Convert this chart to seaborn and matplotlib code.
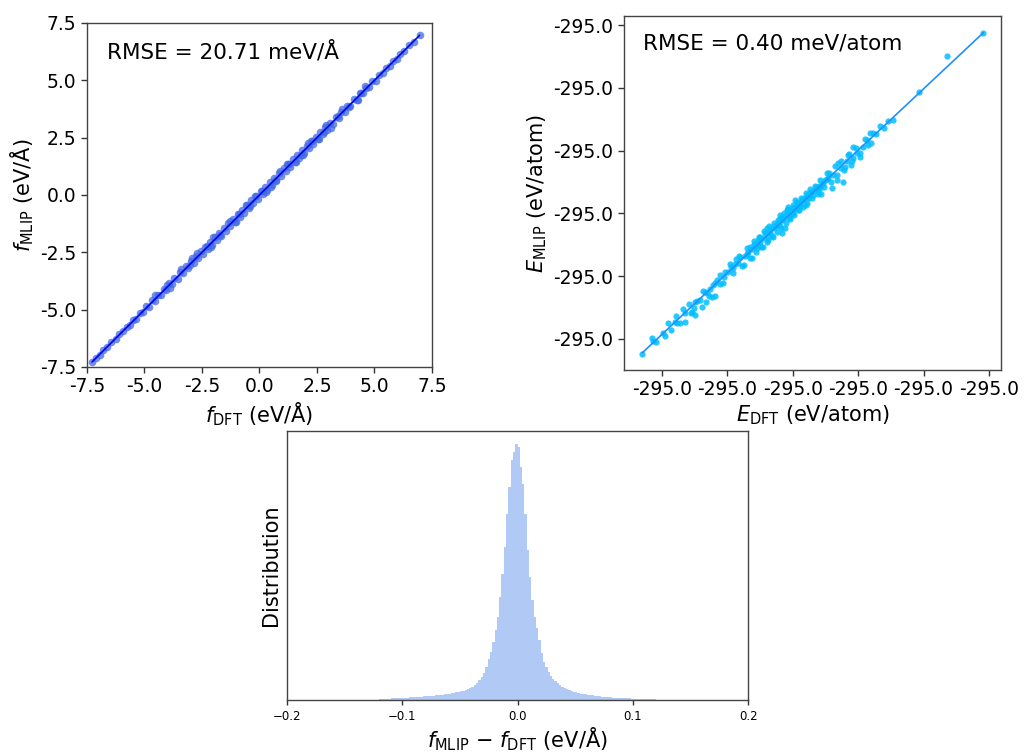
import numpy as np
import pandas as pd
import matplotlib
matplotlib.use("Agg")
import matplotlib.pyplot as plt
from matplotlib.ticker import FuncFormatter, FixedLocator
import seaborn as sns

# ---------------- data ----------------
f_dft = [-7.28, -7.12, -6.95, -6.8, -6.62, -6.45, -6.25, -6.1, -5.92, -5.78, -5.62, -5.5, -5.36, -5.2,
         -5.06, -4.92, -4.8, -4.66, -4.55, -4.42, -4.3, -4.16, -4.05, -3.92, -3.8, -3.7, -3.56, -3.45,
         -3.32, -3.2, -3.1, -2.96, -2.86, -2.76, -2.66, -2.55, -2.45, -2.36, -2.25, -2.15, -2.06, -1.95,
         -1.86, -1.75, -1.66, -1.55, -1.46, -1.35, -1.26, -1.15, -1.06, -0.95, -0.86, -0.75, -0.66, -0.55,
         -0.46, -0.35, -0.26, -0.15, -0.06, 0.05, 0.14, 0.25, 0.34, 0.45, 0.54, 0.65, 0.74, 0.85, 0.94,
         1.05, 1.14, 1.25, 1.34, 1.45, 1.54, 1.65, 1.74, 1.85, 1.94, 2.05, 2.14, 2.25, 2.34, 2.45, 2.55,
         2.65, 2.76, 2.86, 2.95, 3.06, 3.2, 3.32, 3.45, 3.56, 3.7, 3.82, 3.95, 4.1, 4.22, 4.36, 4.5, 4.62,
         4.76, 4.9, 5.05, 5.2, 5.36, 5.5, 5.66, 5.8, 5.96, 6.12, 6.3, 6.5, 6.7, 6.96,
         -4.55, -3.9, -2.95, -2.7, -2.1, -1.3, -0.6, 0.3, 0.9, 1.6, 2.1, 2.6, 3.1, 3.6, 4.3, 4.6,
         -1.0, -0.2, 0.5, 1.2, 1.9, 2.9, -3.4, -2.0,
         -4.0, -3.0, -2.3, -1.7, -0.9, -0.4, 0.1, 0.7, 1.3, 1.8, 2.3, 2.8, 3.4, 3.9, 4.4]
f_mlip = [-7.29, -7.10, -6.97, -6.78, -6.64, -6.43, -6.27, -6.07, -5.95, -5.74, -5.66, -5.46, -5.40, -5.14,
          -5.11, -4.86, -4.87, -4.59, -4.62, -4.35, -4.38, -4.09, -4.13, -3.84, -3.89, -3.61, -3.65, -3.37,
          -3.41, -3.11, -3.20, -2.87, -2.96, -2.66, -2.76, -2.45, -2.56, -2.25, -2.36, -2.04, -2.17, -1.84,
          -1.97, -1.64, -1.77, -1.44, -1.57, -1.24, -1.37, -1.04, -1.17, -0.84, -0.97, -0.64, -0.77, -0.44,
          -0.57, -0.24, -0.37, -0.04, -0.17, 0.16, 0.03, 0.36, 0.23, 0.56, 0.43, 0.76, 0.63, 0.96, 0.83,
          1.16, 1.03, 1.36, 1.23, 1.55, 1.43, 1.75, 1.63, 1.95, 1.83, 2.15, 2.03, 2.35, 2.23, 2.55, 2.44,
          2.75, 2.65, 2.95, 2.85, 3.15, 3.10, 3.40, 3.36, 3.64, 3.61, 3.90, 3.87, 4.17, 4.14, 4.43, 4.43, 4.68,
          4.69, 4.95, 4.99, 5.24, 5.32, 5.53, 5.62, 5.83, 5.93, 6.14, 6.28, 6.52, 6.68, 6.97,
          -4.36, -4.06, -2.76, -2.53, -2.27, -1.12, -0.44, 0.14, 1.06, 1.42, 2.26, 2.44, 2.94, 3.76, 4.14, 4.76,
          -1.16, -0.04, 0.34, 1.36, 1.74, 3.06, -3.24, -1.84,
          -3.94, -3.06, -2.24, -1.76, -0.84, -0.46, 0.16, 0.64, 1.36, 1.74, 2.36, 2.74, 3.46, 3.84, 4.46]

# energies: meV offsets from -295 eV
e_dft_mev = [-21.51, -20.79, -20.67, -20.46, -19.52, -19.31, -18.83, -18.37, -18.24, -17.81, -17.55, -17.48,
             -17.35, -17.10, -16.97, -16.64, -16.58, -16.33, -16.20, -15.95, -16.08, -15.77, -15.57, -15.26,
             -14.93, -14.75, -14.55, -14.34, -14.17, -14.04, -13.73, -13.53, -13.40, -13.27, -13.14, -12.97,
             -12.76, -12.64, -12.51, -12.30, -12.13, -12.00, -11.87, -11.74, -11.54, -11.49, -11.23, -11.11,
             -10.98, -10.85, -10.73, -10.60, -10.47, -10.34, -10.27, -10.08, -9.96, -9.83, -9.70, -9.50,
             -9.32, -9.15, -8.99, -8.82, -8.63, -8.43, -8.23, -8.05, -7.87, -7.67, -7.41, -7.21, -7.03, -6.90,
             -6.64, -6.52, -6.34, -6.19, -6.01, -5.83, -5.68, -5.57, -5.38, -5.07, -4.86, -4.35, -4.23, -3.89,
             -3.64, -2.36, -0.33, 1.77, 4.56, -4.10, -4.61, -5.40, -2.70,
             -13.65, -13.12, -12.51, -12.20, -11.90, -11.36, -11.06, -10.67, -10.44, -10.21, -9.99, -9.68,
             -9.45, -9.22, -8.92, -8.61, -8.30, -8.00, -7.77, -7.54, -7.31, -12.51, -11.74, -10.98, -10.21,
             -9.45, -8.76, -7.92, -14.42, -15.18, -15.95, -16.71, -17.48, -18.24, -19.01, -19.92,
             -16.9, -16.4, -15.6, -15.3, -14.8, -14.6, -14.1, -13.9, -13.5, -13.3, -13.0, -12.8, -12.6, -12.4,
             -12.2, -12.0, -11.8, -11.6, -11.4, -11.2, -11.0, -10.9, -10.7, -10.5, -10.4, -10.2, -10.0, -9.9,
             -9.7, -9.6, -9.4, -9.2, -9.0, -8.9, -8.7, -8.5, -8.3, -8.1, -7.9, -7.6, -7.4, -7.1, -6.8, -6.6,
             -6.3, -6.1, -5.8, -5.5, -5.2, -4.9, -4.5, -4.0, -3.3, -3.0, -18.9, -18.6, -19.8, -17.9, -17.7,
             -11.3, -10.8, -9.8, -12.9]
e_mlip_mev = [-21.60, -20.32, -20.52, -20.65, -19.10, -19.65, -19.05, -17.96, -18.97, -18.24, -17.88, -18.43,
              -17.29, -17.20, -17.75, -17.34, -16.66, -16.33, -16.94, -16.88, -15.98, -15.57, -15.90, -15.31,
              -14.90, -14.49, -14.62, -13.89, -14.21, -13.68, -14.35, -13.46, -13.27, -12.86, -13.81, -12.64,
              -12.99, -12.32, -12.05, -12.86, -11.77, -11.36, -12.32, -11.50, -11.23, -12.05, -11.10, -10.69,
              -10.28, -11.77, -10.42, -11.36, -9.87, -9.60, -10.55, -10.01, -10.14, -9.06, -9.55, -9.87,
              -9.06, -8.92, -9.47, -8.79, -8.38, -8.65, -7.98, -8.30, -8.57, -7.70, -7.37, -6.84, -8.11, -7.02,
              -7.43, -6.07, -6.48, -7.57, -6.35, -5.86, -5.31, -6.21, -5.66, -5.26, -5.53, -4.17, -4.58, -3.58,
              -3.68, -2.54, -0.24, 2.67, 4.52, -3.58, -4.72, -4.72, -2.62,
              -13.62, -13.05, -12.48, -12.15, -11.99, -11.34, -10.85, -10.53, -10.20, -9.95, -9.71, -9.38,
              -9.30, -9.06, -8.65, -8.41, -8.24, -7.92, -7.76, -7.43, -7.27, -12.81, -11.75, -11.18, -10.36,
              -9.55, -8.90, -8.08, -14.27, -14.92, -15.82, -16.55, -17.37, -18.26, -19.00, -19.89,
              -16.5, -16.9, -15.2, -15.8, -14.3, -15.0, -13.6, -14.4, -13.0, -13.8, -12.4, -13.3, -12.1, -12.9,
              -11.6, -12.5, -11.2, -12.0, -10.9, -11.7, -10.5, -11.3, -10.1, -10.9, -9.8, -10.6, -9.5, -10.3,
              -9.2, -9.9, -8.9, -9.6, -8.5, -9.3, -8.2, -8.9, -7.9, -8.6, -7.4, -8.0, -6.9, -7.6, -6.3, -7.0,
              -5.9, -6.6, -5.4, -5.9, -4.8, -5.2, -4.1, -4.4, -3.0, -3.2, -18.5, -19.1, -20.1, -17.5, -18.2,
              -11.1, -10.7, -9.7, -12.8]

hist_heights = [3, 3, 4, 4, 4, 5, 5, 5, 6, 6,
                6, 7, 7, 8, 8, 9, 9, 10, 10, 11,
                11, 12, 12, 13, 14, 14, 15, 16, 17, 18,
                19, 20, 21, 23, 24, 26, 28, 30, 33, 36,
                40, 45, 52, 60, 70, 82, 98, 122, 145, 175,
                210, 250, 310, 380, 460, 560, 640, 720, 745, 770,
                760, 700, 650, 560, 450, 370, 300, 250, 215, 180,
                140, 115, 100, 85, 72, 63, 56, 50, 44, 39,
                35, 32, 30, 27, 25, 23, 21, 19, 18, 17,
                16, 15, 14, 13, 12, 11, 10, 9, 9, 8,
                8, 7, 7, 6, 6, 6, 5, 5, 5, 4,
                4, 4, 4, 3, 3, 3, 3, 3, 2, 2]
hist_edges = [float(v) for v in np.linspace(-0.12, 0.12, len(hist_heights) + 1)]
hist_centers = [0.5 * (a + b) for a, b in zip(hist_edges[:-1], hist_edges[1:])]

force_ticks = [-7.5, -5.0, -2.5, 0.0, 2.5, 5.0, 7.5]
e_xticks_mev = [-20, -15, -10, -5, 0, 5]
e_yticks_mev = [-20.38, -15.265, -10.15, -5.035, 0.08, 5.195]
hist_ticks = [-0.2, -0.1, 0.0, 0.1, 0.2]

# ---------------- plot ----------------
sns.set_theme(style="ticks")
plt.rcParams['font.family'] = ['DejaVu Sans']
plt.rcParams['mathtext.fontset'] = 'dejavusans'
plt.rcParams['text.color'] = 'black'
plt.rcParams['axes.labelcolor'] = 'black'
plt.rcParams['xtick.color'] = 'black'
plt.rcParams['ytick.color'] = 'black'

fig = plt.figure(figsize=(10.27, 7.54), dpi=100)
ax1 = fig.add_axes([0.0847, 0.5133, 0.3359, 0.4562])
ax2 = fig.add_axes([0.6076, 0.5093, 0.3671, 0.4695])
ax3 = fig.add_axes([0.2795, 0.0716, 0.4489, 0.3568])

hyph = FuncFormatter(lambda v, p: f"{v:.1f}")

# force parity
sns.scatterplot(x=f_dft, y=f_mlip, ax=ax1, color="royalblue", alpha=0.75, s=30, linewidth=0)
fmin, fmax = min(f_dft), max(f_dft)
sns.lineplot(x=[fmin, fmax], y=[fmin, fmax], ax=ax1, color="blue", linewidth=1.2)
ax1.set_xlim(-7.5, 7.5)
ax1.set_ylim(-7.5, 7.5)
ax1.xaxis.set_major_locator(FixedLocator(force_ticks))
ax1.yaxis.set_major_locator(FixedLocator(force_ticks))
ax1.xaxis.set_major_formatter(hyph)
ax1.yaxis.set_major_formatter(hyph)
ax1.set_xlabel(r"$f_{\mathrm{DFT}}$ (eV/Å)", fontsize=15, labelpad=3)
ax1.set_ylabel(r"$f_{\mathrm{MLIP}}$ (eV/Å)", fontsize=15, labelpad=3)
ax1.text(0.058, 0.897, "RMSE = 20.71 meV/Å", transform=ax1.transAxes, fontsize=15.5,
         ha="left", va="baseline")

# energy parity
e_dft = [-295.0 + v / 1000.0 for v in e_dft_mev]
e_mlip = [-295.0 + v / 1000.0 for v in e_mlip_mev]
sns.scatterplot(x=e_dft, y=e_mlip, ax=ax2, color="deepskyblue", alpha=0.85, s=20, linewidth=0)
emin, emax = min(e_dft), max(e_dft)
sns.lineplot(x=[emin, emax], y=[emin, emax], ax=ax2, color="dodgerblue", linewidth=1.2)
ax2.set_xlim(-295.022905, -294.994083)
ax2.set_ylim(-295.022905, -294.99407)
ax2.xaxis.set_major_locator(FixedLocator([-295.0 + v / 1000.0 for v in e_xticks_mev]))
ax2.yaxis.set_major_locator(FixedLocator([-295.0 + v / 1000.0 for v in e_yticks_mev]))
ax2.xaxis.set_major_formatter(hyph)
ax2.yaxis.set_major_formatter(hyph)
ax2.set_xlabel(r"$E_{\mathrm{DFT}}$ (eV/atom)", fontsize=15, labelpad=3)
ax2.set_ylabel(r"$E_{\mathrm{MLIP}}$ (eV/atom)", fontsize=15, labelpad=3)
ax2.text(0.051, 0.904, "RMSE = 0.40 meV/atom", transform=ax2.transAxes, fontsize=15.5,
         ha="left", va="baseline")

for ax in (ax1, ax2):
    ax.tick_params(labelsize=13.5, length=4, width=1, color="#333333")
    for sp in ax.spines.values():
        sp.set_color("#444444")
        sp.set_linewidth(1.0)

# histogram of errors
hist_df = pd.DataFrame({"err": hist_centers, "count": hist_heights})
sns.histplot(data=hist_df, x="err", weights="count", bins=hist_edges, ax=ax3,
             color="cornflowerblue", alpha=0.5, linewidth=0, element="step", fill=True)
ax3.set_xlim(-0.2, 0.2)
ax3.xaxis.set_major_locator(FixedLocator(hist_ticks))
ax3.set_yticks([])
ax3.tick_params(axis="x", labelsize=8.5, length=3.5, width=1, color="#333333")
ax3.set_xlabel(r"$f_{\mathrm{MLIP}}$ − $f_{\mathrm{DFT}}$ (eV/Å)", fontsize=15, labelpad=2)
ax3.set_ylabel("Distribution", fontsize=15, labelpad=4)
for sp in ax3.spines.values():
    sp.set_color("#444444")
    sp.set_linewidth(1.0)

fig.savefig("out.png", dpi=100)
